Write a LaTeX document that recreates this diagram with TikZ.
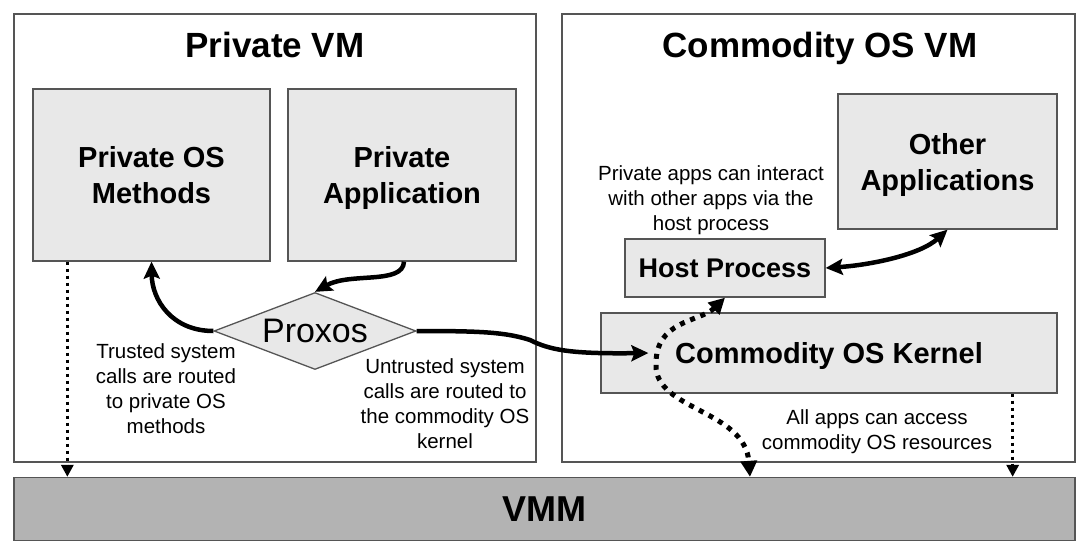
\documentclass[tikz,border=0pt]{standalone}
\usepackage{fontspec}
\setmainfont{Liberation Sans}
\usetikzlibrary{shapes.geometric,arrows.meta}
\newcommand\myfs[2]{\fontsize{#1}{#2}\selectfont}
\definecolor{boxfill}{HTML}{E8E8E8}
\definecolor{vmmfill}{HTML}{B3B3B3}
\definecolor{edge}{HTML}{555555}
\tikzset{
  vmbox/.style={draw=edge, line width=1.3pt, inner sep=0pt},
  graybox/.style={draw=edge, fill=boxfill, line width=1.3pt, inner sep=0pt, align=center,
    font=\myfs{29}{36}\bfseries, text depth=0pt},
  thickarrow/.style={line width=4.5pt, -{Stealth[length=17pt,width=16pt,inset=3pt]}},
  dotarrow/.style={line width=3.5pt, dash pattern=on 3.5pt off 3.5pt, -{Triangle[length=12pt,width=12pt]}},
  bigdots/.style={line width=5pt, dash pattern=on 5pt off 6pt,
    {Triangle[length=16pt,width=16pt]}-{Triangle[length=16pt,width=16pt]}},
  note/.style={align=center, font=\myfs{20.5}{25}, inner sep=0pt, anchor=base},
  title/.style={font=\myfs{35}{42}\bfseries, inner sep=0pt, anchor=base}
}
\begin{document}
\begin{tikzpicture}[x=1pt,y=-1pt]
\useasboundingbox (0,0) rectangle (1088,554);
% VM containers
\node[vmbox, minimum width=522pt, minimum height=448pt] (pvm) at (275,238) {};
\node[vmbox, minimum width=513pt, minimum height=448pt] (cvm) at (818.5,238) {};
\node[title] (pvmt) at (275,57) {Private VM};
\node[title] (cvmt) at (820,57) {Commodity OS VM};
% VMM
\node[draw=edge, fill=vmmfill, line width=1.3pt, minimum width=1061pt, minimum height=63pt,
  inner sep=0pt, font=\myfs{36}{42}\bfseries, text depth=0pt] (vmm) at (544.5,509) {VMM};
% boxes
\node[graybox, minimum width=237pt, minimum height=172pt] (osm) at (151.5,175) {Private OS\\Methods};
\node[graybox, minimum width=228pt, minimum height=172pt] (app) at (402,175) {Private\\Application};
\node[graybox, minimum width=219pt, minimum height=135pt] (oth) at (947.5,161.5) {Other\\Applications};
\node[graybox, minimum width=200pt, minimum height=58pt, font=\myfs{27}{33}\bfseries] (host) at (725,268) {Host Process};
\node[graybox, minimum width=456pt, minimum height=80pt] (kern) at (829,353) {Commodity OS Kernel};
% Proxos
\node[diamond, draw=edge, fill=boxfill, line width=1.3pt, inner sep=0pt, aspect=2.6,
  minimum width=202pt, minimum height=77pt, font=\myfs{34}{40}, text depth=0pt] (prox) at (315,331) {Proxos};
% notes (anchor = baseline of last line)
\node[note] (n1) at (166,433) {Trusted system\\calls are routed\\to private OS\\methods};
\node[note] (n2) at (445,448) {Untrusted system\\calls are routed to\\the commodity OS\\kernel};
\node[note] (n3) at (711,230) {Private apps can interact\\with other apps via the\\host process};
\node[note] (n4) at (877,449) {All apps can access\\commodity OS resources};
% thick arrows
\draw[thickarrow] ([xshift=2pt]app.south) .. controls (403,285) and (350,272) .. (prox.north);
\draw[thickarrow] (prox.west) .. controls (172,331) and (152,300) .. (osm.south);
\draw[thickarrow] (prox.east) .. controls (480,331) and (505,332) .. (530,340)
  .. controls (550,350) and (570,354) .. ([xshift=48pt]kern.west);
\draw[line width=4.5pt, {Stealth[length=17pt,width=16pt,inset=3pt]}-{Stealth[length=17pt,width=16pt,inset=3pt]}]
  (host.east) .. controls (870,265) and (920,255) .. (oth.south);
% dotted arrows
\path ([xshift=35pt]osm.south west) coordinate (d1);
\draw[dotarrow] (d1) -- (d1 |- vmm.north);
\path ([xshift=-45pt]kern.south east) coordinate (d2);
\draw[dotarrow] (d2) -- (d2 |- vmm.north);
\path ([xshift=205.5pt]vmm.north) coordinate (d3);
\draw[bigdots] (host.south) .. controls (700,322) and (655,320) .. (656,365)
  .. controls (655,410) and (745,410) .. (d3);
\end{tikzpicture}
\end{document}
